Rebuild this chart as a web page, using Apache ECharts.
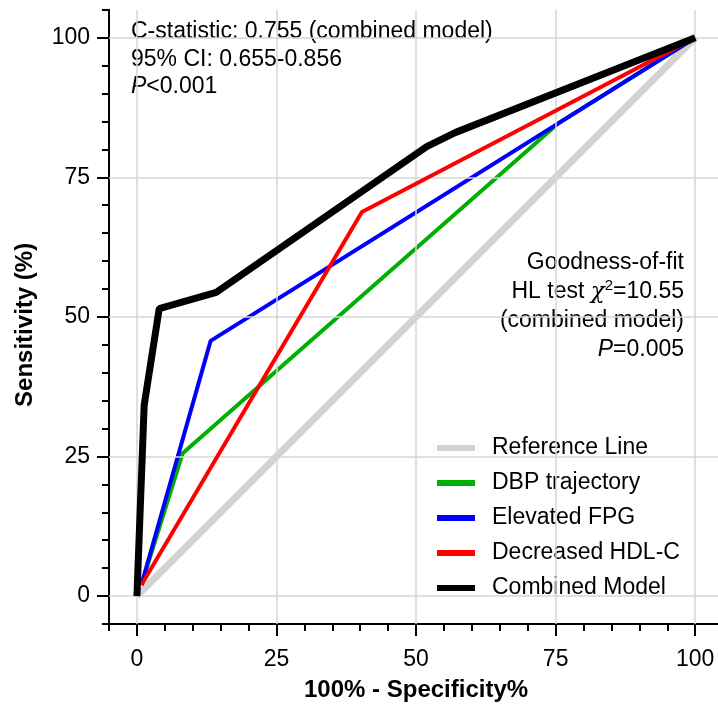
<!DOCTYPE html>
<html>
<head>
<meta charset="utf-8">
<script src="https://cdn.jsdelivr.net/npm/echarts@6/dist/echarts.min.js"></script>
<style>
  html, body { margin: 0; padding: 0; background: #fff; }
  #chart { width: 718px; height: 704px; }
</style>
</head>
<body>
<div id="chart"></div>
<script>
// ---- data ----
const seriesNames = ['Reference Line', 'DBP trajectory', 'Elevated FPG', 'Decreased HDL-C', 'Combined Model'];
const refX = [0, 100];
const refY = [0, 100];
const dbpX = [0.8, 8.2, 75.5, 100];
const dbpY = [2, 25.6, 84.7, 100];
const fpgX = [0.8, 13.2, 100];
const fpgY = [2, 45.7, 100];
const hdlX = [0.8, 40.3, 100];
const hdlY = [2, 68.8, 100];
const combX = [0, 1.3, 4.0, 14.2, 51.9, 57.0, 100];
const combY = [0, 34.2, 51.5, 54.4, 80.5, 83.0, 100];
const tickValues = [0, 25, 50, 75, 100];
const leftNote = ['C-statistic: 0.755 (combined model)', '95% CI: 0.655-0.856', '{i|P}<0.001'];
const rightNote = ['Goodness-of-fit', 'HL test {chi|χ}{sup|2}=10.55', '(combined model)', '{i|P}=0.005'];

const zip = (xs, ys) => xs.map((x, i) => [x, ys[i]]);

// ---- layout ----
const S = 5.583;           // px per unit
const gL = 109, gTop = 596 - 105 * S, gBottomPx = 624;
const FONT = 'Liberation Sans, Arial, Helvetica, sans-serif';
const FS = 23;

const chart = echarts.init(document.getElementById('chart'), null, { renderer: 'canvas' });

const gridLineData = tickValues.map(v => ({ xAxis: v })).concat(tickValues.map(v => ({ yAxis: v })));

const rich = {
  i: { fontStyle: 'italic', fontSize: FS, fontFamily: FONT, fill: '#000' },
  chi: { fontSize: FS, fontFamily: 'DejaVu Serif, serif', fontStyle: 'italic', fill: '#000' },
  sup: { fontSize: 15, fontFamily: FONT, fill: '#000', verticalAlign: 'bottom', padding: [0, 0, 12, 0] }
};

const graphics = [];
leftNote.forEach((t, i) => {
  graphics.push({ type: 'text', x: 131, y: 32 + i * 27.5, silent: true,
    style: { text: t, rich: rich, font: FS + 'px ' + FONT, fill: '#000', align: 'left', verticalAlign: 'middle' } });
});
rightNote.forEach((t, i) => {
  graphics.push({ type: 'text', x: 684, y: 263 + i * 29, silent: true,
    style: { text: t, rich: rich, font: FS + 'px ' + FONT, fill: '#000', align: 'right', verticalAlign: 'middle' } });
});

const option = {
  backgroundColor: '#fff',
  animation: false,
  grid: [
    { left: gL, top: gTop, width: 110 * S, height: gBottomPx - gTop, outerBoundsMode: 'none', containLabel: false },
    { left: gL + 5 * S, top: gTop, width: 100 * S, height: gBottomPx - gTop, outerBoundsMode: 'none', containLabel: false },
    { left: gL, top: 596 - 100 * S, width: 100 * S, height: 100 * S, outerBoundsMode: 'none', containLabel: false }
  ],
  xAxis: [
    { type: 'value', gridIndex: 0, min: -5, max: 105, interval: 5,
      axisLine: { show: true, onZero: false, lineStyle: { color: '#000', width: 2 } },
      axisTick: { show: true, length: 7, lineStyle: { color: '#000', width: 2 } },
      axisLabel: { show: false }, splitLine: { show: false },
      name: '100% - Specificity%', nameLocation: 'middle', nameGap: 54,
      nameTextStyle: { fontFamily: FONT, fontSize: 24, fontWeight: 'bold', color: '#000' } },
    { type: 'value', gridIndex: 1, min: 0, max: 100, interval: 25,
      axisLine: { show: false, onZero: false },
      axisTick: { show: true, length: 12, lineStyle: { color: '#000', width: 2 } },
      axisLabel: { show: true, margin: 24, fontFamily: FONT, fontSize: FS, color: '#000' },
      splitLine: { show: false } },
    { type: 'value', gridIndex: 2, min: 0, max: 100, show: false }
  ],
  yAxis: [
    { type: 'value', gridIndex: 0, min: -5, max: 105, interval: 5,
      axisLine: { show: true, onZero: false, lineStyle: { color: '#000', width: 2 } },
      axisTick: { show: true, length: 7, lineStyle: { color: '#000', width: 2 } },
      axisLabel: { show: false }, splitLine: { show: false },
      name: 'Sensitivity (%)', nameLocation: 'middle', nameGap: 72,
      nameTextStyle: { fontFamily: FONT, fontSize: 24, fontWeight: 'bold', color: '#000', padding: [0, 16, 0, 0] } },
    { type: 'value', gridIndex: 1, min: 0, max: 100, show: false },
    { type: 'value', gridIndex: 2, min: 0, max: 100, interval: 25,
      axisLine: { show: false, onZero: false },
      axisTick: { show: true, length: 12, lineStyle: { color: '#000', width: 2 } },
      axisLabel: { show: true, margin: 19, fontFamily: FONT, fontSize: FS, color: '#000' },
      splitLine: { show: false } }
  ],
  legend: {
    orient: 'vertical', left: 437, top: 435, padding: 0,
    icon: 'rect', itemWidth: 38, itemHeight: 6, itemGap: 9,
    textStyle: { fontFamily: FONT, fontSize: FS, color: '#000', lineHeight: 26, padding: [0, 0, 0, 12] },
    data: seriesNames, selectedMode: false
  },
  graphic: graphics,
  series: [
    { name: seriesNames[0], type: 'line', xAxisIndex: 0, yAxisIndex: 0, data: zip(refX, refY),
      showSymbol: false, color: '#d3d3d3', lineStyle: { width: 7, color: '#d3d3d3' }, z: 2,
      markLine: { silent: true, symbol: ['none', 'none'], label: { show: false }, animation: false,
        lineStyle: { type: 'solid', color: '#d6d6d6', width: 1.5 }, emphasis: { disabled: true },
        data: gridLineData } },
    { name: seriesNames[1], type: 'line', xAxisIndex: 0, yAxisIndex: 0, data: zip(dbpX, dbpY),
      showSymbol: false, color: '#00b000', lineStyle: { width: 4, color: '#00b000' }, z: 3 },
    { name: seriesNames[2], type: 'line', xAxisIndex: 0, yAxisIndex: 0, data: zip(fpgX, fpgY),
      showSymbol: false, color: '#0000ff', lineStyle: { width: 4, color: '#0000ff' }, z: 4 },
    { name: seriesNames[3], type: 'line', xAxisIndex: 0, yAxisIndex: 0, data: zip(hdlX, hdlY),
      showSymbol: false, color: '#ff0000', lineStyle: { width: 4, color: '#ff0000' }, z: 5 },
    { name: seriesNames[4], type: 'line', xAxisIndex: 0, yAxisIndex: 0, data: zip(combX, combY),
      showSymbol: false, color: '#000000', lineStyle: { width: 7, color: '#000000' }, z: 6 }
  ]
};
chart.setOption(option);
</script>
</body>
</html>
